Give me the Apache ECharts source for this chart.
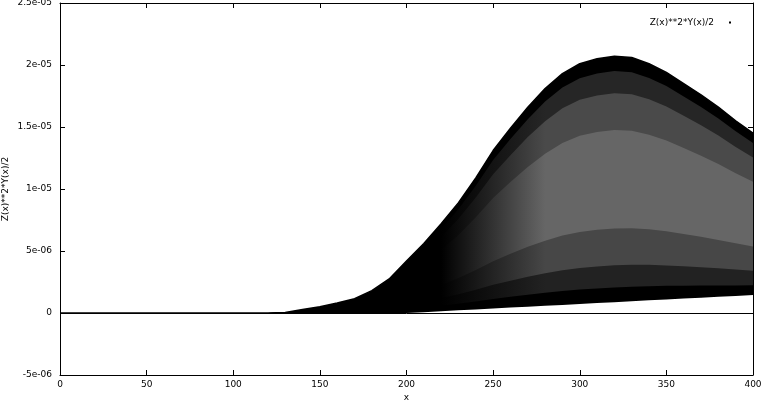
<!DOCTYPE html>
<html>
<head>
<meta charset="utf-8">
<script src="https://cdn.jsdelivr.net/npm/echarts@6/dist/echarts.min.js"></script>
<style>
html,body{margin:0;padding:0;background:#fff;}
#chart{width:761px;height:405px;}
</style>
</head>
<body>
<div id="chart"></div>
<script>
// ---- data (y values in units of 1e-6) ----
const xValues = [0,10,20,30,40,50,60,70,80,90,100,110,120,130,140,150,160,170,180,190,200,
  210,220,230,240,250,260,270,280,290,300,310,320,330,340,350,360,370,380,390,400];
const upperE6 = [0,0,0,0,0,0,0,0,0,0,0,0,0,0.05,0.28,0.5,0.8,1.15,1.8,2.75,4.2,
  5.6,7.2,8.9,10.9,13.1,14.9,16.6,18.1,19.3,20.1,20.5,20.7,20.6,20.1,19.4,18.5,17.6,16.6,15.5,14.5];
const lowerE6 = [0,0,0,0,0,0,0,0,0,0,0,0,0,0,0,0,0,0,0,0,0,
  0.07,0.15,0.22,0.29,0.36,0.44,0.51,0.58,0.65,0.73,0.8,0.87,0.94,1.02,1.09,1.16,1.23,1.31,1.38,1.45];
const xTickLabels = ['0','50','100','150','200','250','300','350','400'];
const yTickLabels = ['-5e-06','0','5e-06','1e-05','1.5e-05','2e-05','2.5e-05'];
const legendText = 'Z(x)**2*Y(x)/2';
const yTitle = 'Z(x)**2*Y(x)/2';
const xTitle = 'x';

const X_MIN = 0, X_MAX = 400, X_INT = 50;
const Y_MIN = -5, Y_MAX = 25, Y_INT = 5;

// ---- band layers: cumulative fraction of the band between lower and upper envelope ----
const FONT = 'DejaVu Sans';
const darkStart = 220 / (X_MAX - X_MIN), darkEnd = 280 / (X_MAX - X_MIN);
function grad(c) {
  return new echarts.graphic.LinearGradient(0, 0, 1, 0, [
    {offset: 0, color: '#000'}, {offset: darkStart, color: '#000'},
    {offset: darkEnd, color: c}, {offset: 1, color: c}
  ]);
}
// drawn top-down: each later layer paints over the previous one down to y = 0
const layerTops = [1.0, 0.94, 0.85, 0.7, 0.3, 0.15, 0.06];
const layerColors = ['#000', grad('#262626'), grad('#4a4a4a'), grad('#666666'),
  grad('#474747'), grad('#222222'), '#000'];

const series = [];
for (let k = 0; k < layerTops.length; k++) {
  const f = layerTops[k];
  series.push({
    name: 'layer' + k, type: 'line', symbol: 'none', silent: true, z: 2,
    lineStyle: {width: 0}, areaStyle: {color: layerColors[k], opacity: 1, origin: 'auto'},
    data: xValues.map((x, i) => [x, lowerE6[i] + (upperE6[i] - lowerE6[i]) * f])
  });
}
series.push({
  name: 'base', type: 'line', symbol: 'none', silent: true, z: 2,
  lineStyle: {width: 0}, areaStyle: {color: '#fff', opacity: 1, origin: 'auto'},
  data: xValues.map((x, i) => [x, lowerE6[i]])
});
series.push({
  name: legendText, type: 'line', symbol: 'none', silent: true, z: 3,
  color: '#000',
  lineStyle: {width: 1.5, color: '#000'},
  data: xValues.map((x, i) => [x, upperE6[i]]),
  markLine: {
    silent: true, symbol: ['none', 'none'], label: {show: false},
    lineStyle: {color: '#000', width: 1, type: 'solid'},
    data: [{yAxis: 0}]
  }
});

const axisCommon = {
  axisLine: {show: true, onZero: false, lineStyle: {color: '#000', width: 1}},
  axisTick: {show: true, inside: true, length: 5, lineStyle: {color: '#000', width: 1}},
  splitLine: {show: false}
};

const chart = echarts.init(document.getElementById('chart'), null, {renderer: 'canvas'});
chart.setOption({
  animation: false,
  backgroundColor: '#fff',
  grid: {left: 60, right: 8, top: 3, bottom: 30, containLabel: false, outerBoundsMode: 'none'},
  legend: {
    data: [{name: legendText, icon: 'rect'}],
    right: 25, top: 13, align: 'right',
    itemWidth: 2, itemHeight: 2,
    textStyle: {fontFamily: FONT, fontSize: 9, color: '#000', padding: [0, 10, 0, 0]},
    selectedMode: false
  },
  xAxis: [
    Object.assign({}, axisCommon, {
      type: 'value', position: 'bottom', min: X_MIN, max: X_MAX, interval: X_INT,
      axisLabel: {fontFamily: FONT, fontSize: 9, color: '#000', margin: 5,
        formatter: v => xTickLabels[Math.round((v - X_MIN) / X_INT)]},
      name: xTitle, nameLocation: 'middle', nameGap: 18, nameMoveOverlap: false,
      nameTextStyle: {fontFamily: FONT, fontSize: 9, color: '#000'}
    }),
    Object.assign({}, axisCommon, {
      type: 'value', position: 'top', min: X_MIN, max: X_MAX, interval: X_INT,
      axisLabel: {show: false}
    })
  ],
  yAxis: [
    Object.assign({}, axisCommon, {
      type: 'value', position: 'left', min: Y_MIN, max: Y_MAX, interval: Y_INT,
      axisLabel: {fontFamily: FONT, fontSize: 9, color: '#000', margin: 8,
        formatter: v => yTickLabels[Math.round((v - Y_MIN) / Y_INT)]},
      name: yTitle, nameLocation: 'middle', nameGap: 50, nameRotate: 90, nameMoveOverlap: false,
      nameTextStyle: {fontFamily: FONT, fontSize: 9, color: '#000'}
    }),
    Object.assign({}, axisCommon, {
      type: 'value', position: 'right', min: Y_MIN, max: Y_MAX, interval: Y_INT,
      axisLabel: {show: false}
    })
  ],
  series: series
});
</script>
</body>
</html>
